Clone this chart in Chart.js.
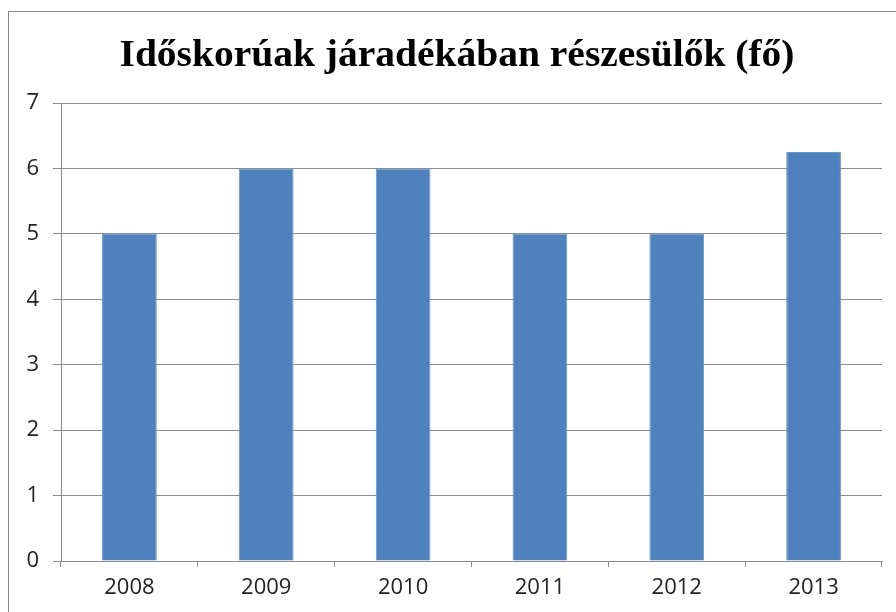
<!DOCTYPE html>
<html>
<head>
<meta charset="utf-8">
<script src="https://cdn.jsdelivr.net/npm/chart.js@4"></script>
<style>
html,body{margin:0;padding:0;background:#fff;}
#wrap{position:absolute;left:0;top:0;width:896px;height:612px;}
</style>
</head>
<body>
<div id="wrap"><canvas id="c" width="896" height="612"></canvas></div>
<script>
const titleText = "Időskorúak járadékában részesülők (fő)";
const categories = ["2008", "2009", "2010", "2011", "2012", "2013"];
const values = [5, 6, 6, 5, 5, 6.25];
const yTicks = [0, 1, 2, 3, 4, 5, 6, 7];

const framePlugin = {
  id: 'frame',
  beforeDraw(chart) {
    const ctx = chart.ctx;
    ctx.save();
    ctx.fillStyle = '#fff';
    ctx.fillRect(0, 0, chart.width, chart.height);
    ctx.strokeStyle = '#8a8a8a';
    ctx.lineWidth = 1;
    ctx.strokeRect(8.5, 11.5, 1000, 1000);
    ctx.restore();
  },
  afterDraw(chart) {
    const ctx = chart.ctx;
    ctx.save();
    ctx.font = 'bold 38px "Liberation Serif", "DejaVu Serif", serif';
    const w = ctx.measureText(titleText).width;
    const targetW = 675;
    const sx = targetW / w;
    ctx.translate(457, 66);
    ctx.scale(sx, 1);
    ctx.fillStyle = '#000';
    ctx.textAlign = 'center';
    ctx.textBaseline = 'alphabetic';
    ctx.fillText(titleText, 0, 0);
    ctx.restore();
  }
};

new Chart(document.getElementById('c'), {
  type: 'bar',
  data: {
    labels: categories,
    datasets: [{
      data: values,
      backgroundColor: '#4F81BD',
      borderColor: '#6C96C8',
      borderWidth: 1,
      categoryPercentage: 1,
      barPercentage: 0.4
    }]
  },
  options: {
    responsive: false,
    animation: false,
    devicePixelRatio: 1,
    layout: { padding: { top: 103, right: 14, left: 0, bottom: 0 } },
    plugins: {
      legend: { display: false },
      title: { display: false },
      tooltip: { enabled: false }
    },
    scales: {
      x: {
        offset: true,
        grid: {
          offset: true,
          drawOnChartArea: false,
          drawTicks: true,
          tickLength: 6,
          color: '#8c8c8c'
        },
        border: { color: '#8c8c8c' },
        ticks: {
          padding: 8,
          color: '#222',
          font: { family: '"Open Sans", sans-serif', size: 22 },
          maxRotation: 0
        },
        afterFit(scale) { scale.height = 51; }
      },
      y: {
        min: 0,
        max: 7,
        afterBuildTicks(scale) { scale.ticks = yTicks.map(v => ({ value: v })); },
        grid: {
          color: '#8c8c8c',
          tickLength: 8,
          drawTicks: true
        },
        border: { color: '#8c8c8c' },
        ticks: {
          padding: 14,
          color: '#222',
          font: { family: '"Open Sans", sans-serif', size: 22 }
        },
        afterFit(scale) { scale.width = 61; }
      }
    }
  },
  plugins: [framePlugin]
});
</script>
</body>
</html>
